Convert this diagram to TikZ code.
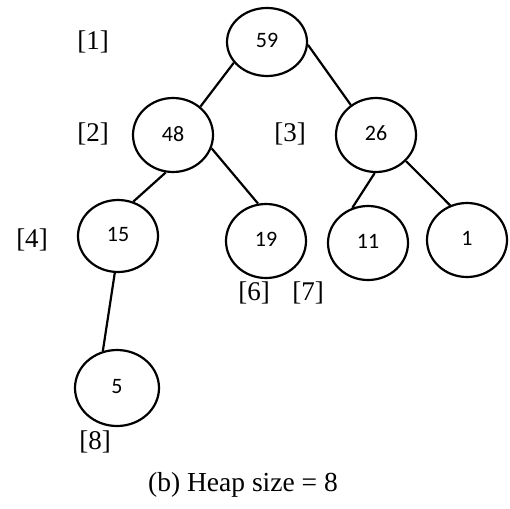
\documentclass[tikz,border=0pt]{standalone}
\usepackage{fontspec}
\setmainfont{Liberation Serif}
\newfontfamily\numfont{Carlito}
\usetikzlibrary{shapes.geometric}
\begin{document}
\begin{tikzpicture}[x=1pt,y=-1pt,
  heapnode/.style={ellipse,draw,line width=2.2pt,inner sep=0pt,minimum width=80pt,minimum height=74pt,font=\numfont\fontsize{22}{24}\selectfont},
  idx/.style={inner sep=0pt,font=\fontsize{27}{30}\selectfont},
  edge/.style={line width=2.2pt}]
\useasboundingbox (0,0) rectangle (510,508);
\newcommand{\hv}[1]{\raisebox{3pt}{#1}}
\node[heapnode,minimum height=68pt] (n59) at (267,42) {\hv{59}};
\node[heapnode] (n48) at (173,135) {\hv{48}};
\node[heapnode] (n26) at (376,135) {\hv{26}};
\node[heapnode,minimum height=72pt] (n15) at (118,236) {\hv{15}};
\node[heapnode] (n19) at (266,241) {\hv{19}};
\node[heapnode] (n11) at (368,243) {\hv{11}};
\node[heapnode] (n1) at (467,240) {\hv{1}};
\node[heapnode,minimum width=84pt,minimum height=76pt] (n5) at (117,388) {\hv{5}};
\node[idx] (l1) at (93,42) {[1]};
\node[idx] (l2) at (93,134) {[2]};
\node[idx] (l3) at (290,134) {[3]};
\node[idx] (l4) at (32,240) {[4]};
\node[idx] (l6) at (254,293) {[6]};
\node[idx] (l7) at (308,293) {[7]};
\node[idx] (l8) at (95,442) {[8]};
\node[inner sep=0pt,font=\fontsize{27.5}{30}\selectfont] (cap) at (243,485) {(b) Heap size = 8};
\draw[edge] (n59.212) -- (n48.46);
\draw[edge] (n59.356) -- (n26.130);
\draw[edge] (n48.259) -- (n15.66);
\draw[edge] (n48.341) -- (n19.102);
\draw[edge] (n26.268) -- (n11.114);
\draw[edge] (n26.319) -- (n1.116);
\draw[edge] (n15.265) -- (n5.111);
\end{tikzpicture}
\end{document}
